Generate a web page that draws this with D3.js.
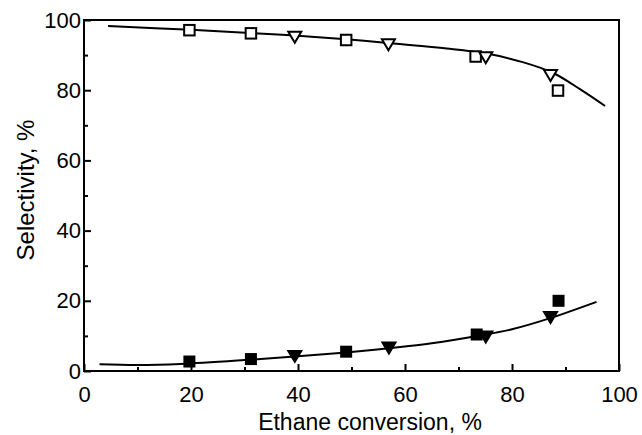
<!DOCTYPE html>
<html>
<head>
<meta charset="utf-8">
<script src="https://cdn.jsdelivr.net/npm/d3@7"></script>
<style>
  body { margin: 0; background: #fff; }
  svg text { font-family: "Liberation Sans", Arial, sans-serif; fill: #000; }
</style>
</head>
<body>
<div id="chart"></div>
<script>
// measured points
const openSquares = [[19.7, 97.1], [31.2, 96.2], [49, 94.3], [73.2, 89.6], [88.6, 79.9]]
const openTriangles = [[39.4, 95.2], [56.9, 93.1], [75.1, 89.4], [87.2, 84.3]]
const filledSquares = [[19.7, 2.7], [31.2, 3.4], [49, 5.5], [73.4, 10.4], [88.7, 20]]
const filledTriangles = [[39.4, 4.3], [57, 6.7], [75.1, 9.8], [87.2, 15.4]]

// fitted curves
const upperCurve = [[4.5, 98.3], [20, 97.2], [31, 96.3], [40, 95.5], [49, 94.5], [57.8, 93.3],
    [67.8, 91.9], [75, 90.5], [82, 88.0], [87.7, 84.9], [92.7, 80.3], [97.4, 75.5]]
const lowerCurve = [[2.9, 1.9], [10, 1.7], [18, 2.0], [30, 3.1], [40, 4.2], [49, 5.3], [57, 6.5],
    [65, 7.9], [74, 10.1], [80, 11.9], [87, 15.0], [95.8, 19.7]]

const majorTicks = [0, 20, 40, 60, 80, 100]
const minorTicks = [10, 30, 50, 70, 90]

const width = 642
const height = 435
const margin = {top: 20, right: 23, bottom: 64, left: 84}
const w = width - margin.left - margin.right
const h = height - margin.top - margin.bottom

const svg = d3.select("#chart").append("svg")
    .attr("width", width)
    .attr("height", height)
const g = svg.append("g")
    .attr("transform", "translate(" + margin.left + "," + margin.top + ")")

const x = d3.scaleLinear().domain([0, 100]).range([0, w])
const y = d3.scaleLinear().domain([0, 100]).range([h, 0])

// axes, ticks pointing inward
const xAxis = g.append("g").attr("transform", "translate(0," + h + ")")
    .call(d3.axisBottom(x).tickValues(majorTicks).tickSizeInner(-7).tickSizeOuter(0).tickPadding(15))
const xMinor = g.append("g").attr("transform", "translate(0," + h + ")")
    .call(d3.axisBottom(x).tickValues(minorTicks).tickSizeInner(-4).tickSizeOuter(0).tickFormat(""))
const yAxis = g.append("g")
    .call(d3.axisLeft(y).tickValues(majorTicks).tickSizeInner(-7).tickSizeOuter(0).tickPadding(3))
const yMinor = g.append("g")
    .call(d3.axisLeft(y).tickValues(minorTicks).tickSizeInner(-4).tickSizeOuter(0).tickFormat(""))

;[xAxis, xMinor, yAxis, yMinor].forEach(a => {
    a.select(".domain").remove()
    a.selectAll(".tick line").attr("stroke", "#000").attr("stroke-width", 2)
    a.selectAll("text").attr("font-size", 22).attr("font-family", "Liberation Sans, Arial, sans-serif")
})

g.append("rect")
    .attr("x", 0).attr("y", 0)
    .attr("width", w).attr("height", h)
    .attr("fill", "none")
    .attr("stroke", "#000")
    .attr("stroke-width", 2)

// curves
const line = d3.line()
    .x(d => x(d[0]))
    .y(d => y(d[1]))
    .curve(d3.curveCatmullRom)

;[upperCurve, lowerCurve].forEach(c => {
    g.append("path")
        .attr("d", line(c))
        .attr("fill", "none")
        .attr("stroke", "#000")
        .attr("stroke-width", 2)
})

// markers
function drawSquares(data, filled) {
    const s = filled ? 12 : 10.5
    g.selectAll(null)
        .data(data)
        .enter()
        .append("rect")
        .attr("x", d => x(d[0]) - s / 2)
        .attr("y", d => y(d[1]) - s / 2)
        .attr("width", s)
        .attr("height", s)
        .attr("fill", filled ? "#000" : "#fff")
        .attr("stroke", "#000")
        .attr("stroke-width", filled ? 0 : 2)
}

function drawTriangles(data, filled) {
    const tri = "M-6.5,-5L6.5,-5L0,6Z"
    g.selectAll(null)
        .data(data)
        .enter()
        .append("path")
        .attr("d", tri)
        .attr("transform", d => "translate(" + x(d[0]) + "," + y(d[1]) + ")")
        .attr("fill", filled ? "#000" : "#fff")
        .attr("stroke", "#000")
        .attr("stroke-width", 2)
        .attr("stroke-linejoin", "miter")
}

drawSquares(openSquares, false)
drawTriangles(openTriangles, false)
drawSquares(filledSquares, true)
drawTriangles(filledTriangles, true)

// axis titles
svg.append("text")
    .attr("x", 370)
    .attr("y", 430)
    .attr("text-anchor", "middle")
    .attr("font-size", 23)
    .text("Ethane conversion, %")

svg.append("text")
    .attr("transform", "translate(34,190) rotate(-90)")
    .attr("text-anchor", "middle")
    .attr("font-size", 24)
    .text("Selectivity, %")
</script>
</body>
</html>
